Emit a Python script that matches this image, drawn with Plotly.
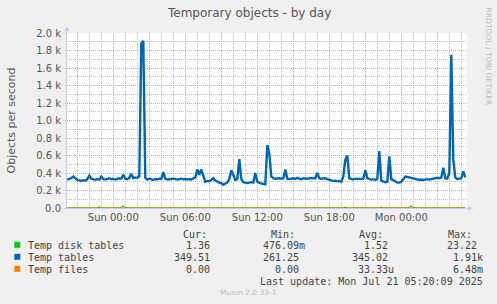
import pandas as pd
import plotly.graph_objects as go

# ---------------- data ----------------
title_text = "Temporary objects - by day"
y_title_text = "Objects per second"
side_text = "RRDTOOL / TOBI OETIKER"
footer_text = "Munin 2.0.33-1"
last_update_text = "Last update: Mon Jul 21 05:20:09 2025"

series_start = "2025-07-19 20:10"
series_step = "10min"

temp_tables = [
    325, 330, 340, 360, 335, 320, 315, 310, 318, 312,
    330, 370, 335, 325, 322, 330, 325, 360, 330, 325,
    330, 340, 328, 332, 325, 330, 340, 335, 380, 335,
    330, 345, 390, 340, 350, 345, 360, 1880, 1910, 345,
    325, 335, 330, 320, 332, 328, 335, 330, 410, 335,
    325, 330, 328, 335, 330, 325, 330, 335, 328, 330,
    332, 330, 325, 335, 350, 440, 380, 440, 360, 300,
    310, 305, 320, 340, 315, 300, 290, 285, 265, 280,
    290, 330, 430, 380, 320, 330, 560, 330, 295, 290,
    285, 290, 295, 290, 400, 300, 285, 280, 275, 270,
    720, 620, 360, 340, 335, 338, 340, 335, 340, 440,
    335, 330, 335, 340, 332, 345, 335, 330, 340, 335,
    335, 340, 338, 335, 340, 400, 340, 335, 338, 340,
    330, 320, 315, 310, 312, 305, 310, 300, 360, 550,
    600, 340, 330, 325, 335, 330, 335, 330, 335, 430,
    340, 330, 325, 330, 320, 330, 650, 310, 300, 295,
    300, 590, 330, 320, 305, 290, 290, 300, 330, 360,
    355, 350, 345, 335, 330, 325, 320, 325, 320, 325,
    330, 325, 330, 335, 340, 345, 340, 350, 460, 340,
    335, 400, 1750, 550, 350, 330, 335, 340, 420, 350,
]

disk_times = [
    "2025-07-19 20:10", "2025-07-19 22:40", "2025-07-19 22:50", "2025-07-19 23:00",
    "2025-07-20 00:40", "2025-07-20 00:50", "2025-07-20 01:00",
    "2025-07-20 19:10", "2025-07-20 19:20", "2025-07-20 19:30",
    "2025-07-20 22:10", "2025-07-20 22:20", "2025-07-20 22:30",
    "2025-07-21 00:40", "2025-07-21 00:50", "2025-07-21 01:00",
    "2025-07-21 05:20",
]
disk_values = [
    1.3, 1.3, 12.0, 1.3,
    1.3, 23.2, 1.3,
    1.3, 10.0, 1.3,
    1.3, 10.0, 1.3,
    1.3, 22.0, 1.3,
    1.36,
]

files_times = ["2025-07-19 20:10", "2025-07-21 05:20"]
files_values = [0.0, 0.0]

x_range = ["2025-07-19 20:08:30", "2025-07-21 05:28:30"]
x_major_ticks = ["2025-07-19 21:00", "2025-07-20 00:00", "2025-07-20 03:00",
                 "2025-07-20 06:00", "2025-07-20 09:00", "2025-07-20 12:00",
                 "2025-07-20 15:00", "2025-07-20 18:00", "2025-07-20 21:00",
                 "2025-07-21 00:00", "2025-07-21 03:00"]
x_major_labels = ["", "Sun 00:00", "", "Sun 06:00", "", "Sun 12:00", "",
                  "Sun 18:00", "", "Mon 00:00", ""]
x_minor_start = "2025-07-19 21:00"
x_minor_end = "2025-07-21 05:00"

y_major_ticks = [0, 200, 400, 600, 800, 1000, 1200, 1400, 1600, 1800, 2000]
y_major_labels = ["0.0", "0.2 k", "0.4 k", "0.6 k", "0.8 k", "1.0 k",
                  "1.2 k", "1.4 k", "1.6 k", "1.8 k", "2.0 k"]
y_minor_ticks = [100, 300, 500, 700, 900, 1100, 1300, 1500, 1700, 1900]

legend_names = ["Temp disk tables", "Temp tables", "Temp files"]
legend_colors = ["#00CC00", "#0066B3", "#FF8000"]
legend_cur = ["1.36", "349.51", "0.00"]
legend_min = ["476.09m", "261.25", "0.00"]
legend_avg = ["1.52", "345.02", "33.33u"]
legend_max = ["23.22", "1.91k", "6.48m"]
legend_headers = ["Cur:", "Min:", "Avg:", "Max:"]

# ---------------- layout constants ----------------
W, H = 497, 304
L, T, PW, PH = 67, 33, 400, 175
BG = "#F0F0F0"
TXT = "#444444"
MONO = "DejaVu Sans Mono"
SANS = "DejaVu Sans"
AXIS_COL = "#C8C8F0"
MINOR_GRID = "#C4C4C4"
MAJOR_GRID = "#E8A0A0"


def px(x):
    return (x - L) / PW


def py(y):
    return (T + PH - y) / PH


times = pd.date_range(series_start, periods=len(temp_tables), freq=series_step)
minor_x = pd.date_range(x_minor_start, x_minor_end, freq="1h")

fig = go.Figure()
fig.add_trace(go.Scatter(x=pd.to_datetime(disk_times), y=disk_values, mode="lines",
                         line=dict(color=legend_colors[0], width=1.2), hoverinfo="skip"))
fig.add_trace(go.Scatter(x=times, y=temp_tables, mode="lines",
                         line=dict(color=legend_colors[1], width=2.4), hoverinfo="skip"))
fig.add_trace(go.Scatter(x=pd.to_datetime(files_times), y=files_values, mode="lines",
                         line=dict(color=legend_colors[2], width=1), hoverinfo="skip",
                         cliponaxis=False))

fig.update_layout(
    width=W, height=H,
    margin=dict(l=L, r=W - L - PW, t=T, b=H - T - PH, pad=0),
    paper_bgcolor=BG, plot_bgcolor="white",
    showlegend=False,
    font=dict(family=SANS, size=10, color="#555555"),
)

fig.update_xaxes(
    type="date", range=x_range,
    tickmode="array", tickvals=x_major_ticks, ticktext=x_major_labels,
    showgrid=True, gridcolor=MAJOR_GRID, griddash="1px,1px", gridwidth=1,
    minor=dict(tickmode="array", tickvals=list(minor_x), showgrid=True,
               gridcolor=MINOR_GRID, griddash="1px,1px", gridwidth=1),
    showline=True, linecolor=AXIS_COL, linewidth=1,
    ticks="", zeroline=False,
    tickfont=dict(family=SANS, size=10, color="#555555"),
)
fig.update_yaxes(
    range=[0, 2000],
    tickmode="array", tickvals=y_major_ticks, ticktext=y_major_labels,
    showgrid=True, gridcolor=MAJOR_GRID, griddash="1px,1px", gridwidth=1,
    minor=dict(tickmode="array", tickvals=y_minor_ticks, showgrid=True,
               gridcolor=MINOR_GRID, griddash="1px,1px", gridwidth=1),
    showline=True, linecolor=AXIS_COL, linewidth=1,
    ticks="outside", ticklen=3, tickcolor="#DDDDDD",
    zeroline=False,
    tickfont=dict(family=SANS, size=10, color="#555555"),
)

ann = []
ann.append(dict(text=title_text, x=px(248.5), y=py(13), xanchor="center", yanchor="middle",
                font=dict(family=SANS, size=12, color="#555555")))
ann.append(dict(text=y_title_text, x=px(11), y=py(120.5), xanchor="center", yanchor="middle",
                textangle=-90, font=dict(family=SANS, size=11, color="#555555")))
ann.append(dict(text=side_text, x=px(488), y=py(56.5), xanchor="center", yanchor="middle",
                textangle=90, font=dict(family=SANS, size=7.6, color="#BBBBBB")))

header_x = [181.5, 270.3, 358.3, 447.3]
for hx, htxt in zip(header_x, legend_headers):
    ann.append(dict(text=htxt, x=px(hx), y=py(234), xanchor="left", yanchor="middle",
                    font=dict(family=MONO, size=10, color=TXT)))

row_y = [245.3, 257.3, 269.3]
col_right = [217.2, 306.2, 394.5, 483.5]
shapes = []
for i, name in enumerate(legend_names):
    ry = row_y[i]
    ann.append(dict(text=name, x=px(26.5), y=py(ry), xanchor="left", yanchor="middle",
                    font=dict(family=MONO, size=10, color=TXT)))
    vals = [legend_cur[i], legend_min[i], legend_avg[i], legend_max[i]]
    for cx, v in zip(col_right, vals):
        t = v if v[-1].isalpha() else v + "\u00a0"
        ann.append(dict(text=t, x=px(cx), y=py(ry), xanchor="right", yanchor="middle",
                        font=dict(family=MONO, size=10, color=TXT)))
    shapes.append(dict(type="rect", xref="paper", yref="paper",
                       x0=px(14.3), x1=px(20.3), y0=py(ry + 2.5), y1=py(ry - 3.5),
                       fillcolor=legend_colors[i], line=dict(width=0), layer="above"))

ann.append(dict(text=last_update_text, x=px(483.5), y=py(281.7),
                xanchor="right", yanchor="middle",
                font=dict(family=MONO, size=10, color=TXT)))
ann.append(dict(text=footer_text, x=px(248.7), y=py(292.7), xanchor="center", yanchor="middle",
                font=dict(family=SANS, size=7.5, color="#BBBBBB")))

for a in ann:
    a.update(xref="paper", yref="paper", showarrow=False, borderpad=0)

# axis arrows
shapes.append(dict(type="path", xref="paper", yref="paper",
                   path=f"M {px(64.3)},{py(31)} L {px(69.2)},{py(31)} L {px(66.75)},{py(26.5)} Z",
                   fillcolor=AXIS_COL, line=dict(width=0), layer="above"))
shapes.append(dict(type="line", xref="paper", yref="paper",
                   x0=px(66.5), x1=px(66.5), y0=py(33), y1=py(30),
                   line=dict(color=AXIS_COL, width=1)))
shapes.append(dict(type="path", xref="paper", yref="paper",
                   path=f"M {px(468)},{py(205.8)} L {px(468)},{py(210.8)} L {px(472.8)},{py(208.3)} Z",
                   fillcolor=AXIS_COL, line=dict(width=0), layer="above"))
shapes.append(dict(type="line", xref="paper", yref="paper",
                   x0=px(467), x1=px(468.5), y0=py(208.3), y1=py(208.3),
                   line=dict(color=AXIS_COL, width=1)))

fig.update_layout(annotations=ann, shapes=shapes)
fig.write_html("out.html", config={"displayModeBar": False})
